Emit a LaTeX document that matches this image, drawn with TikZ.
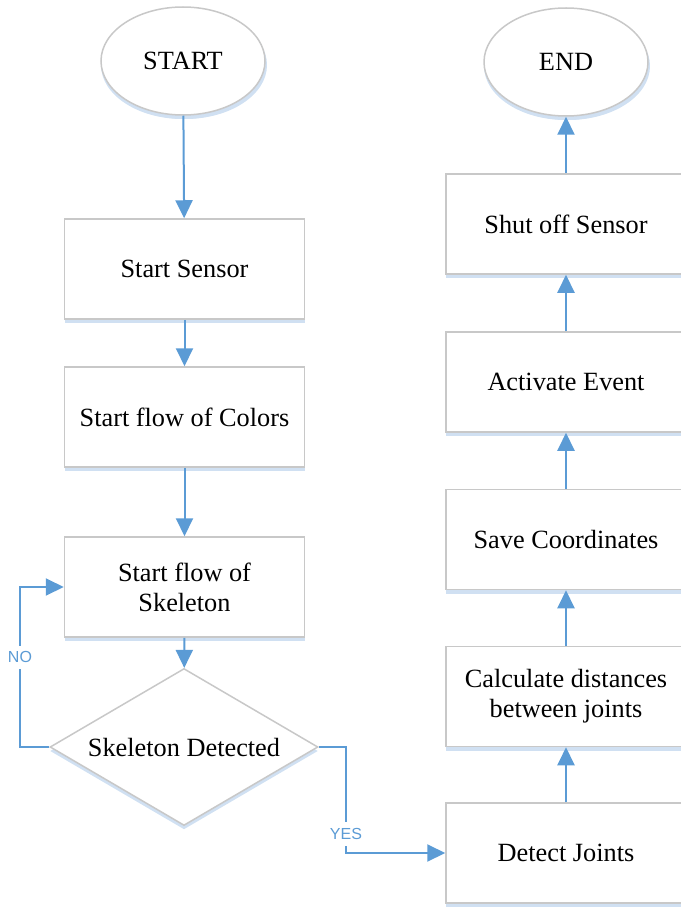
\documentclass[tikz,border=0pt]{standalone}
\usepackage{fontspec}
\setmainfont{Liberation Serif}
\newfontfamily\yesnofont{Liberation Sans}
\usepackage{xcolor}
\usetikzlibrary{shapes.geometric, arrows.meta, shadows}
\definecolor{flowblue}{RGB}{91,155,213}
\definecolor{boxgray}{RGB}{200,200,200}
\definecolor{shadowblue}{RGB}{208,224,242}

\begin{document}
\begin{tikzpicture}[x=1pt, y=-1pt,
  every node/.style={font=\fontsize{26.3}{30}\selectfont},
  box/.style={draw=boxgray, line width=1.5pt, fill=white, minimum width=240pt, minimum height=100pt, align=center,
    drop shadow={shadow xshift=0pt, shadow yshift=-4pt, fill=shadowblue, opacity=1}},
  term/.style={box, ellipse, minimum width=164pt, minimum height=108pt,
    drop shadow={shadow xshift=2pt, shadow yshift=-4pt, fill=shadowblue, opacity=1}},
  decide/.style={box, diamond, aspect=1.7, inner sep=0pt, minimum width=268pt, minimum height=157pt},
  flow/.style={draw=flowblue, line width=2pt, -{Triangle[width=17pt, length=18pt]}},
  yesno/.style={fill=white, text=flowblue, inner xsep=2pt, inner ysep=6pt, font=\yesnofont\fontsize{16}{18}\selectfont}]
\useasboundingbox (0,0) rectangle (680,909);
% left column
\node [term] (start) at (183, 61) {START};
\node [box] (sensor) at (184.5, 269) {Start Sensor};
\node [box] (colors) at (184.5, 417) {Start flow of Colors};
\node [box] (skeleton) at (184.5, 587) {Start flow of\\Skeleton};
\node [decide] (detected) at (184, 747) {Skeleton Detected};
% right column
\node [term] (end) at (566, 62) {END};
\node [box] (shutoff) at (566, 224) {Shut off Sensor};
\node [box] (activate) at (566, 382) {Activate Event};
\node [box] (save) at (566, 539.5) {Save Coordinates};
\node [box] (distances) at (566, 696.5) {Calculate distances\\between joints};
\node [box] (joints) at (566, 853) {Detect Joints};
\coordinate (nobend) at (20, 747);
\coordinate (yesbend) at (346, 747);
\draw [flow] (start) -- (sensor);
\draw [flow] (sensor) -- (colors);
\draw [flow] (colors) -- (skeleton);
\draw [flow] (skeleton) -- (detected);
\draw [flow] (detected.west) -- (nobend) |- node [yesno, pos=0.28] {NO} (skeleton.west);
\draw [flow] (detected.east) -- (yesbend) |- node [yesno, pos=0.41] {YES} (joints.west);
\draw [flow] (joints) -- (distances);
\draw [flow] (distances) -- (save);
\draw [flow] (save) -- (activate);
\draw [flow] (activate) -- (shutoff);
\draw [flow] (shutoff) -- (end);
\end{tikzpicture}
\end{document}
